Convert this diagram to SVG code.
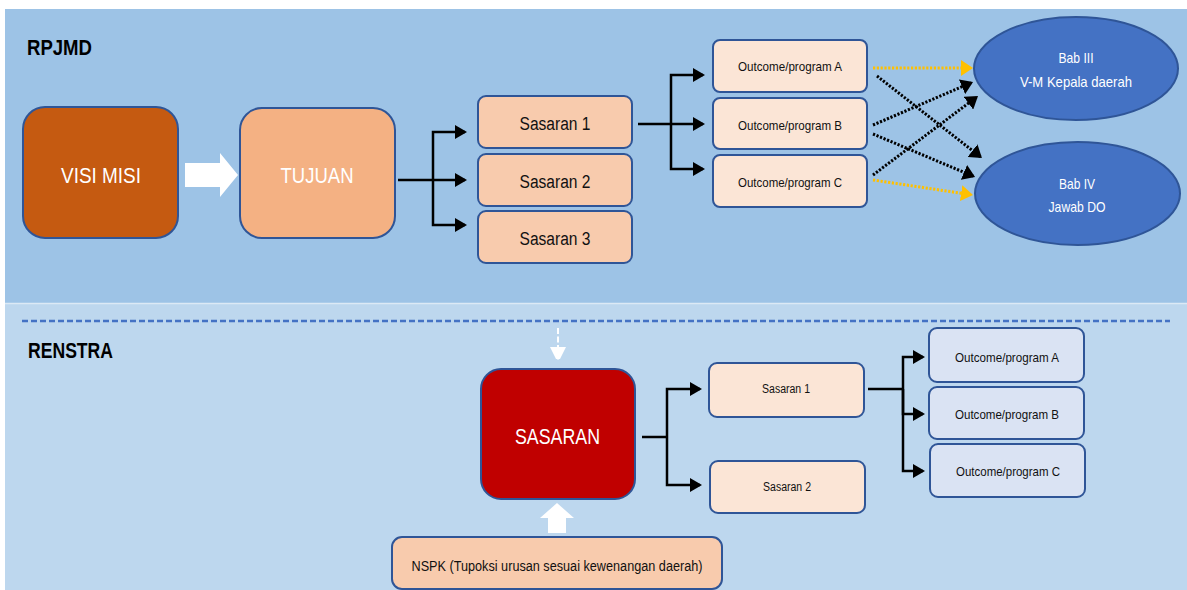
<svg xmlns="http://www.w3.org/2000/svg" width="1187" height="590" viewBox="0 0 1187 590">
<style>
text{font-family:"Liberation Sans",Arial,sans-serif;text-anchor:middle}
.box{stroke:#2F5597;stroke-width:2}
.w{fill:#fff}
.k{fill:#111}
.ttl{font-weight:bold;text-anchor:start;fill:#000}
.con{fill:none;stroke:#000;stroke-width:2.5}
.dotk{fill:none;stroke:#000;stroke-width:3;stroke-dasharray:2.2 1.6}
.doty{fill:none;stroke:#FFC000;stroke-width:3;stroke-dasharray:2.2 1.6}
</style>
<defs>
<marker id="ah" viewBox="0 0 12 14" refX="10" refY="7" markerWidth="12" markerHeight="14" markerUnits="userSpaceOnUse" orient="auto"><path d="M0,0 L12,7 L0,14 z" fill="#000"/></marker>
<marker id="ahy" viewBox="0 0 12 16" refX="10" refY="8" markerWidth="12" markerHeight="16" markerUnits="userSpaceOnUse" orient="auto"><path d="M0,0 L12,8 L0,16 z" fill="#FFC000"/></marker>
<marker id="ahk" viewBox="0 0 12 16" refX="10" refY="8" markerWidth="12" markerHeight="16" markerUnits="userSpaceOnUse" orient="auto"><path d="M0,0 L12,8 L0,16 z" fill="#000"/></marker>
<marker id="ahw" viewBox="0 0 12 16" refX="14" refY="8" markerWidth="12" markerHeight="16" markerUnits="userSpaceOnUse" orient="auto"><path d="M0,0 L16,8 L0,16 z" fill="#fff"/></marker>
</defs>
<rect x="0" y="0" width="1187" height="590" fill="#fff"/>
<rect x="5" y="9" width="1182" height="294" fill="#9DC3E6"/>
<rect x="5" y="303" width="1182" height="287" fill="#BDD7EE"/>
<line x1="5" y1="303.5" x2="1187" y2="303.5" stroke="#DCE9F5" stroke-width="1.5"/>
<line x1="22" y1="321" x2="1170" y2="321" stroke="#4472C4" stroke-width="2.5" stroke-dasharray="6 3"/>
<text class="ttl" x="27" y="55" font-size="22" textLength="65" lengthAdjust="spacingAndGlyphs">RPJMD</text>
<text class="ttl" x="28" y="358" font-size="22" textLength="85" lengthAdjust="spacingAndGlyphs">RENSTRA</text>

<g id="visi-misi"><rect class="box" x="23" y="107" width="155" height="131" rx="22" fill="#C55A11"/><text class="w" x="101" y="183" font-size="22" textLength="80" lengthAdjust="spacingAndGlyphs">VISI MISI</text></g>
<g id="arrow-visi-tujuan"><polygon points="185,163 220,163 220,153 238,175 220,197 220,187 185,187" fill="#fff"/></g>
<g id="tujuan"><rect class="box" x="240" y="108" width="155" height="130" rx="22" fill="#F4B183"/><text class="w" x="317" y="183" font-size="22" textLength="73" lengthAdjust="spacingAndGlyphs">TUJUAN</text></g>

<g id="sasaran-1"><rect class="box" x="478" y="96" width="154" height="52" rx="8" fill="#F8CBAD"/><text class="k" x="555" y="129.5" font-size="18" textLength="71" lengthAdjust="spacingAndGlyphs">Sasaran 1</text></g>
<g id="sasaran-2"><rect class="box" x="478" y="154" width="154" height="52" rx="8" fill="#F8CBAD"/><text class="k" x="555" y="187.5" font-size="18" textLength="71" lengthAdjust="spacingAndGlyphs">Sasaran 2</text></g>
<g id="sasaran-3"><rect class="box" x="478" y="211" width="154" height="52" rx="8" fill="#F8CBAD"/><text class="k" x="555" y="244.5" font-size="18" textLength="71" lengthAdjust="spacingAndGlyphs">Sasaran 3</text></g>

<g id="outcome-a"><rect class="box" x="713" y="40" width="154" height="52" rx="7" fill="#FBE5D6"/><text class="k" x="790" y="71" font-size="13" textLength="104" lengthAdjust="spacingAndGlyphs">Outcome/program A</text></g>
<g id="outcome-b"><rect class="box" x="713" y="98" width="154" height="51" rx="7" fill="#FBE5D6"/><text class="k" x="790" y="129.5" font-size="13" textLength="104" lengthAdjust="spacingAndGlyphs">Outcome/program B</text></g>
<g id="outcome-c"><rect class="box" x="713" y="155" width="154" height="52" rx="7" fill="#FBE5D6"/><text class="k" x="790" y="186.5" font-size="13" textLength="104" lengthAdjust="spacingAndGlyphs">Outcome/program C</text></g>

<g id="bab-iii"><ellipse class="box" cx="1076" cy="68.5" rx="102" ry="51.5" fill="#4472C4"/><text class="w" x="1076" y="63" font-size="15" textLength="35" lengthAdjust="spacingAndGlyphs">Bab III</text><text class="w" x="1076" y="87" font-size="15" textLength="112" lengthAdjust="spacingAndGlyphs">V-M Kepala daerah</text></g>
<g id="bab-iv"><ellipse class="box" cx="1077.5" cy="193.5" rx="102.5" ry="51.5" fill="#4472C4"/><text class="w" x="1077" y="189" font-size="15" textLength="36" lengthAdjust="spacingAndGlyphs">Bab IV</text><text class="w" x="1077" y="212" font-size="15" textLength="57" lengthAdjust="spacingAndGlyphs">Jawab DO</text></g>

<g id="renstra-sasaran"><rect class="box" x="481" y="369" width="154" height="130" rx="20" fill="#C00000"/><text class="w" x="557.5" y="444" font-size="22" textLength="85" lengthAdjust="spacingAndGlyphs">SASARAN</text></g>
<g id="renstra-sasaran-1"><rect class="box" x="709" y="363" width="155" height="54" rx="8" fill="#FBE5D6"/><text class="k" x="786" y="393.3" font-size="12" textLength="48" lengthAdjust="spacingAndGlyphs">Sasaran 1</text></g>
<g id="renstra-sasaran-2"><rect class="box" x="710" y="461" width="155" height="52" rx="8" fill="#FBE5D6"/><text class="k" x="787" y="491.3" font-size="12" textLength="48" lengthAdjust="spacingAndGlyphs">Sasaran 2</text></g>
<g id="renstra-outcome-a"><rect class="box" x="929" y="328" width="155" height="54" rx="8" fill="#DAE3F3"/><text class="k" x="1007" y="361.6" font-size="13" textLength="104" lengthAdjust="spacingAndGlyphs">Outcome/program A</text></g>
<g id="renstra-outcome-b"><rect class="box" x="929" y="387" width="155" height="52" rx="8" fill="#DAE3F3"/><text class="k" x="1007" y="418.6" font-size="13" textLength="104" lengthAdjust="spacingAndGlyphs">Outcome/program B</text></g>
<g id="renstra-outcome-c"><rect class="box" x="930" y="444" width="155" height="53" rx="8" fill="#DAE3F3"/><text class="k" x="1008" y="476" font-size="13" textLength="104" lengthAdjust="spacingAndGlyphs">Outcome/program C</text></g>
<g id="nspk"><rect class="box" x="392" y="537" width="330" height="52" rx="10" fill="#F8CBAD"/><text class="k" x="557" y="571" font-size="14" textLength="291" lengthAdjust="spacingAndGlyphs">NSPK (Tupoksi urusan sesuai kewenangan daerah)</text></g>

<g id="connectors">
<path class="con" d="M398,180 H465" marker-end="url(#ah)"/>
<path class="con" d="M433,180 V132 H465" marker-end="url(#ah)"/>
<path class="con" d="M433,180 V225 H465" marker-end="url(#ah)"/>
<path class="con" d="M638,124 H703" marker-end="url(#ah)"/>
<path class="con" d="M671,124 V75 H703" marker-end="url(#ah)"/>
<path class="con" d="M671,124 V169 H703" marker-end="url(#ah)"/>
<path class="doty" d="M873,68 L971,68" marker-end="url(#ahy)"/>
<path class="doty" d="M873,180 L971,194.7" marker-end="url(#ahy)"/>
<path class="dotk" d="M877,76 L980.4,156.8" marker-end="url(#ahk)"/>
<path class="dotk" d="M873,125 L971.2,82.8" marker-end="url(#ahk)"/>
<path class="dotk" d="M873,134 L973.2,176.2" marker-end="url(#ahk)"/>
<path class="dotk" d="M873,175 L976.4,97.2" marker-end="url(#ahk)"/>
<path d="M558,328 V361" fill="none" stroke="#fff" stroke-width="2" stroke-dasharray="6 2.5" marker-end="url(#ahw)"/>
<polygon points="557,503 574,518 566,518 566,533 548,533 548,518 540,518" fill="#fff"/>
<path class="con" d="M642,437 H667" />
<path class="con" d="M667,437 V389 H700" marker-end="url(#ah)"/>
<path class="con" d="M667,437 V485 H700" marker-end="url(#ah)"/>
<path class="con" d="M868,389 H903" />
<path class="con" d="M903,389 V357 H923" marker-end="url(#ah)"/>
<path class="con" d="M903,389 V414 H923" marker-end="url(#ah)"/>
<path class="con" d="M903,389 V471 H923" marker-end="url(#ah)"/>
</g>
</svg>
